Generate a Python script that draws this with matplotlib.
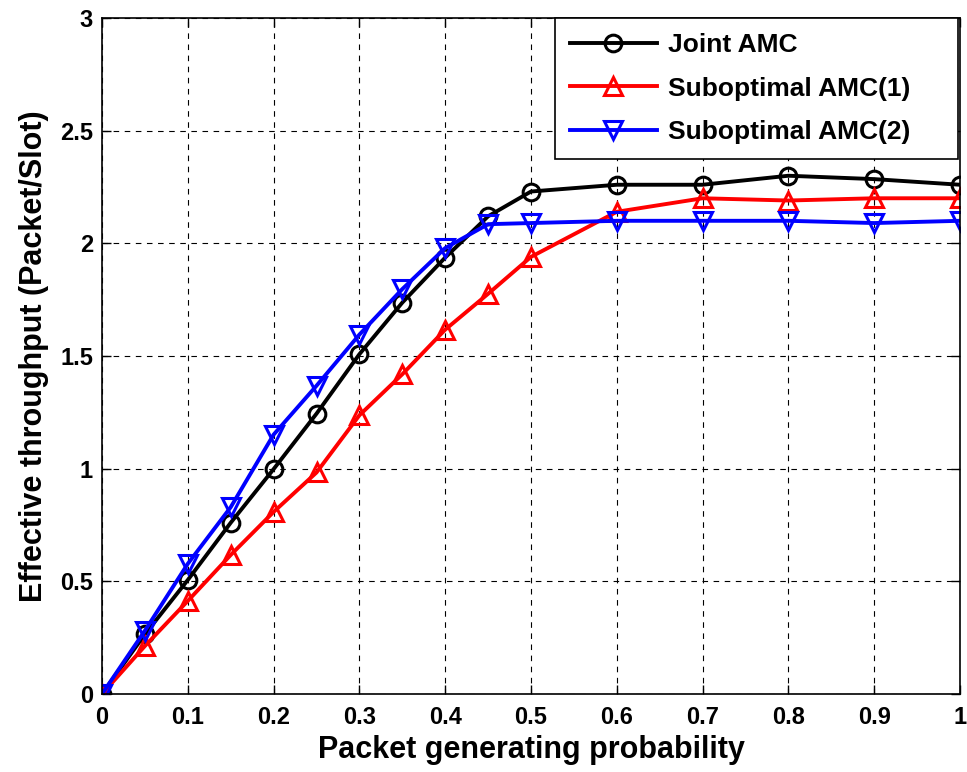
import matplotlib
matplotlib.use('Agg')
import matplotlib.pyplot as plt
import numpy as np

# data
x = [0, 0.05, 0.1, 0.15, 0.2, 0.25, 0.3, 0.35, 0.4, 0.45, 0.5, 0.6, 0.7, 0.8, 0.9, 1.0]
joint = [0, 0.265, 0.506, 0.76, 0.998, 1.244, 1.508, 1.737, 1.937, 2.12, 2.23, 2.26, 2.26, 2.3, 2.285, 2.26]
sub1 = [0, 0.213, 0.413, 0.617, 0.808, 0.983, 1.237, 1.419, 1.617, 1.776, 1.94, 2.14, 2.2, 2.19, 2.2, 2.2]
sub2 = [0, 0.281, 0.578, 0.829, 1.151, 1.368, 1.595, 1.797, 1.979, 2.085, 2.09, 2.1, 2.1, 2.1, 2.09, 2.1]
labels = ['Joint AMC', 'Suboptimal AMC(1)', 'Suboptimal AMC(2)']
xticks = np.arange(0, 1.01, 0.1)
yticks = [0, 0.5, 1, 1.5, 2, 2.5, 3]

plt.rcParams['font.family'] = ['Liberation Sans', 'DejaVu Sans']
plt.rcParams['font.weight'] = 'bold'

fig = plt.figure(figsize=(9.67, 7.72), dpi=100)
# axes box in pixels: left 102, right 960, top 18, bottom 694
ax = fig.add_axes([102 / 967, (772 - 694) / 772, 858 / 967, 676 / 772])

ax.plot(x, joint, color='black', lw=2.8, marker='o', ms=12, mfc='none', mew=2.2, label=labels[0])
ax.plot(x, sub1, color='red', lw=2.8, marker='^', ms=13, mfc='none', mew=2.2, label=labels[1])
ax.plot(x, sub2, color='blue', lw=2.8, marker='v', ms=13, mfc='none', mew=2.2, label=labels[2])

ax.set_xlim(0, 1)
ax.set_ylim(0, 3)
ax.set_xticks(xticks)
ax.set_xticklabels(['0', '0.1', '0.2', '0.3', '0.4', '0.5', '0.6', '0.7', '0.8', '0.9', '1'])
ax.set_yticks(yticks)
ax.set_yticklabels(['0', '0.5', '1', '1.5', '2', '2.5', '3'])
ax.tick_params(direction='in', top=True, right=True, labelsize=17, length=6.5, width=1)
ax.tick_params(axis='x', pad=9)
ax.tick_params(axis='y', pad=6.5)
ax.grid(True, color='black', linestyle=(0, (5, 5)), linewidth=0.8)
for s in ax.spines.values():
    s.set_linewidth(1.2)

ax.set_xlabel('Packet generating probability', fontsize=22, fontweight='bold', labelpad=4)
ax.set_ylabel('Effective throughput (Packet/Slot)', fontsize=22, fontweight='bold', labelpad=8)

# legend box spans roughly x 555..958 px, top at the axes edge
leg = ax.legend(loc='upper left', bbox_to_anchor=(0.528, 0.0, 0.4697, 0.9995), mode='expand',
                fancybox=False, framealpha=1, edgecolor='black',
                prop={'family': 'Liberation Sans', 'weight': 'bold', 'size': 19},
                handlelength=3.3, handletextpad=0.45, borderaxespad=0.0, labelspacing=0.75,
                borderpad=0.55)
leg.get_frame().set_linewidth(1.2)

fig.savefig('out.png', dpi=100)
